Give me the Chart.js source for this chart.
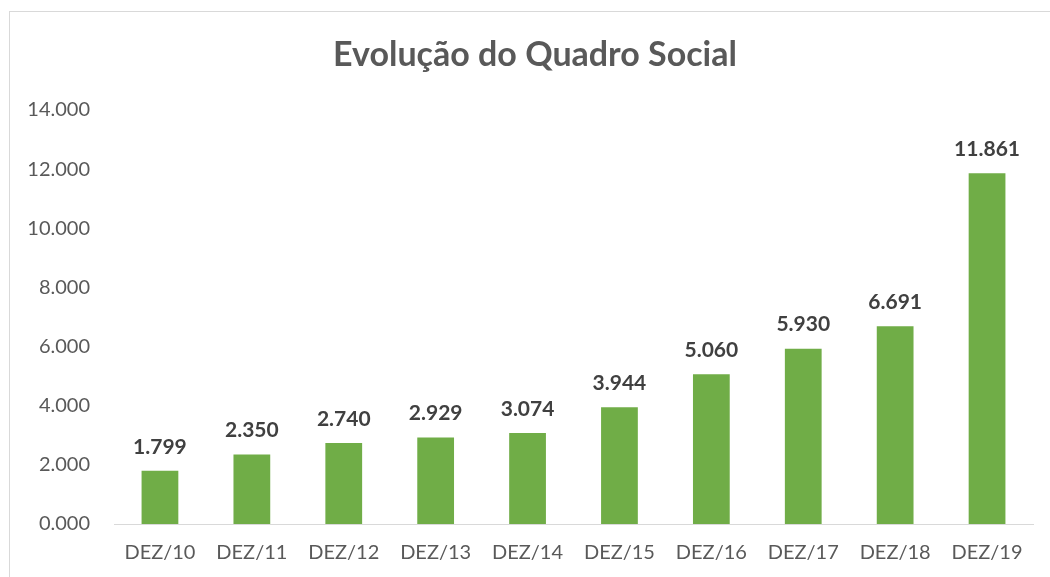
<!DOCTYPE html>
<html>
<head>
<meta charset="utf-8">
<script src="https://cdn.jsdelivr.net/npm/chart.js@4"></script>
<style>
  html, body { margin: 0; padding: 0; background: #fff; overflow: hidden; }
  #wrap { position: relative; width: 1050px; height: 577px; }
  #frame { position: absolute; left: 9px; top: 11px; width: 1100px; height: 600px;
           border-left: 1px solid #d9d9d9; border-top: 1px solid #d9d9d9; pointer-events: none; }
</style>
</head>
<body>
<div id="wrap">
  <canvas id="chart" width="1050" height="577"></canvas>
  <div id="frame"></div>
</div>
<script>
const categories = ["DEZ/10", "DEZ/11", "DEZ/12", "DEZ/13", "DEZ/14", "DEZ/15", "DEZ/16", "DEZ/17", "DEZ/18", "DEZ/19"];
// valores em milhares, como no original (1.799 = 1799 associados)
const associados = [1.799, 2.350, 2.740, 2.929, 3.074, 3.944, 5.060, 5.930, 6.691, 11.861];
const yMin = 0, yMax = 14, yStep = 2;
const titulo = "Evolução do Quadro Social";

const FONT = "Lato, 'Open Sans', sans-serif";

// rótulos de valor em cima das barras + título centrado no quadro
const valueLabels = {
  id: "valueLabels",
  afterDatasetsDraw(chart) {
    const ctx = chart.ctx;
    const meta = chart.getDatasetMeta(0);
    ctx.save();
    ctx.font = "bold 21px " + FONT;
    ctx.fillStyle = "#404040";
    ctx.textAlign = "center";
    ctx.textBaseline = "middle";
    meta.data.forEach((bar, i) => {
      ctx.fillText(associados[i].toFixed(3), bar.x, bar.y - 24);
    });
    ctx.font = "bold 34px " + FONT;
    ctx.fillStyle = "#595959";
    ctx.fillText(titulo, 535, 55);
    ctx.restore();
  }
};

const chart = new Chart(document.getElementById("chart"), {
  type: "bar",
  data: {
    labels: categories,
    datasets: [{
      label: "Quadro Social",
      data: associados,
      backgroundColor: "#70ad47",
      borderWidth: 0,
      barPercentage: 0.4,
      categoryPercentage: 1
    }]
  },
  options: {
    responsive: false,
    animation: false,
    layout: { padding: { left: 0, right: 17, top: 110, bottom: 0 } },
    plugins: {
      legend: { display: false },
      tooltip: { enabled: false },
      title: { display: false }
    },
    scales: {
      x: {
        grid: { display: false },
        border: { display: true, color: "#d9d9d9", width: 1 },
        afterFit(scale) { scale.height = 53; },
        ticks: { color: "#595959", font: { family: FONT, size: 20 }, padding: 9, maxRotation: 0 }
      },
      y: {
        min: yMin,
        max: yMax,
        grid: { display: false },
        border: { display: false },
        afterFit(scale) { scale.width = 114; },
        ticks: {
          stepSize: yStep,
          color: "#595959",
          font: { family: FONT, size: 20 },
          padding: 16,
          callback: v => v.toFixed(3)
        }
      }
    }
  },
  plugins: [valueLabels]
});
</script>
</body>
</html>
